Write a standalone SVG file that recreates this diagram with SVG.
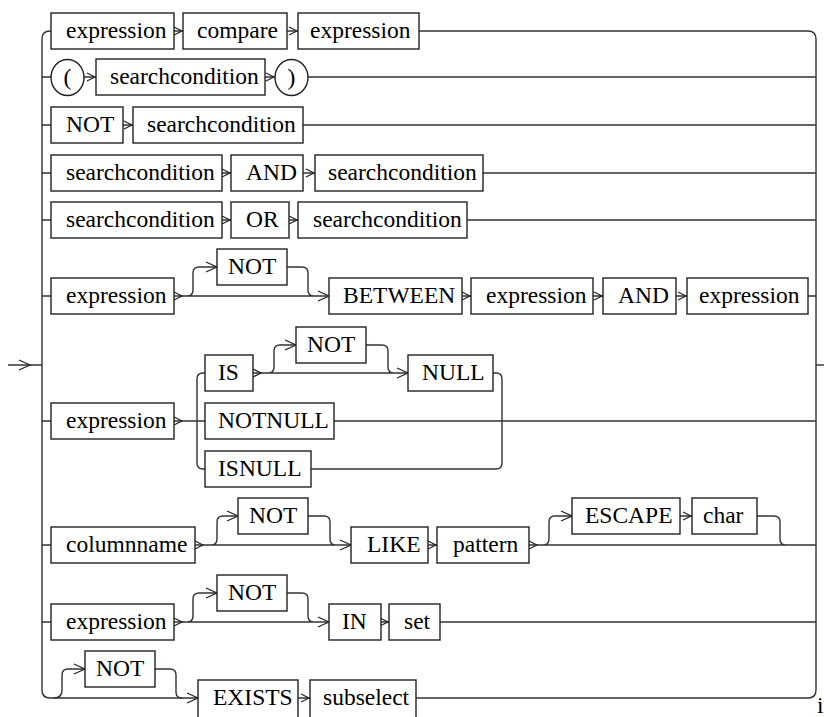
<svg xmlns="http://www.w3.org/2000/svg" width="824" height="717" viewBox="0 0 824 717" font-family="Liberation Serif, serif" font-size="23.5">
<style>
.box{fill:#fff;stroke:#222;stroke-width:1.4}
.ln{fill:none;stroke:#333;stroke-width:1.4}
.ch{fill:none;stroke:#222;stroke-width:1.2}
.m{text-anchor:middle}
</style>
<defs>
<path id="sa" class="ch" d="M-8,-4 L0,0 L-8,4"/>
<path id="la" class="ch" d="M-11,-5 L0,0 L-11,5"/>
</defs>
<rect width="824" height="717" fill="#fff"/>
<g id="connectors">
<path class="ln" d="M8,365 H42"/>
<path class="ch" d="M19,360 L30,365 L19,370"/>
<path class="ln" d="M51,31 H50 Q42,31 42,39 V690 Q42,698 50,698 H198"/>
<path class="ln" d="M419,31 H808 Q816,31 816,39 V690 Q816,698 808,698 H416"/>
<path class="ln" d="M816,365 H824"/>
<path class="ln" d="M174,31 H183 M287,31 H298"/>
<use href="#sa" x="182" y="31"/><use href="#sa" x="297" y="31"/>
<path class="ln" d="M42,77 H51 M84,77 H96 M265,77 H275 M308,77 H816"/>
<use href="#sa" x="95" y="77"/><use href="#sa" x="274" y="77"/>
<path class="ln" d="M42,125 H51 M123,125 H133 M303,125 H816"/>
<use href="#sa" x="132" y="125"/>
<path class="ln" d="M42,173 H51 M222,173 H231 M303,173 H315 M483,173 H816"/>
<use href="#sa" x="230" y="173"/><use href="#sa" x="314" y="173"/>
<path class="ln" d="M42,220 H51 M222,220 H231 M289,220 H298 M467,220 H816"/>
<use href="#sa" x="230" y="220"/><use href="#sa" x="297" y="220"/>
<path class="ln" d="M42,296 H51 M174,296 H329 M182,296 H187 Q193,296 193,290 V273 Q193,267 199,267 H217 M287,267 H302 Q308,267 308,273 V290 Q308,296 314,296 M462,296 H471 M593,296 H603 M676,296 H687 M808,296 H816"/>
<use href="#sa" x="182" y="296"/><use href="#la" x="217" y="267"/><use href="#la" x="329" y="296"/>
<use href="#sa" x="470" y="296"/><use href="#sa" x="602" y="296"/><use href="#sa" x="686" y="296"/>
<path class="ln" d="M42,421 H51 M174,421 H205 M205,373 H203 Q197,373 197,379 V463 Q197,469 203,469 H205 M253,373 H408 M261,373 H268 Q274,373 274,367 V351 Q274,345 280,345 H296 M366,345 H382 Q388,345 388,351 V367 Q388,373 394,373 M493,373 H496 Q502,373 502,379 V463 Q502,469 496,469 H311 M334,421 H816"/>
<use href="#sa" x="182" y="421"/><use href="#sa" x="261" y="373"/><use href="#la" x="296" y="345"/><use href="#la" x="408" y="373"/>
<path class="ln" d="M42,545 H51 M195,545 H351 M203,545 H211 Q217,545 217,539 V522 Q217,516 223,516 H238 M308,516 H324 Q330,516 330,522 V539 Q330,545 336,545 M428,545 H437 M529,545 H816 M537,545 H543 Q549,545 549,539 V522 Q549,516 555,516 H572 M680,516 H692 M757,516 H774 Q780,516 780,522 V539 Q780,545 786,545"/>
<use href="#sa" x="203" y="545"/><use href="#la" x="238" y="516"/><use href="#la" x="351" y="545"/>
<use href="#sa" x="436" y="545"/><use href="#sa" x="537" y="545"/><use href="#la" x="572" y="516"/><use href="#sa" x="691" y="516"/>
<path class="ln" d="M42,622 H51 M174,622 H329 M182,622 H187 Q193,622 193,616 V599 Q193,593 199,593 H217 M287,593 H302 Q308,593 308,599 V616 Q308,622 314,622 M381,622 H389 M440,622 H816"/>
<use href="#sa" x="182" y="622"/><use href="#la" x="217" y="593"/><use href="#la" x="329" y="622"/><use href="#sa" x="388" y="622"/>
<path class="ln" d="M54,698 Q62,698 62,690 V675 Q62,669 68,669 H85 M155,669 H170 Q176,669 176,675 V692 Q176,698 182,698 M298,698 H310"/>
<use href="#la" x="85" y="669"/><use href="#la" x="198" y="698"/><use href="#sa" x="309" y="698"/>
</g>
<g id="r1-expression1"><rect class="box" x="51" y="13" width="123" height="36"/><text x="66" y="38">expression</text></g>
<g id="r1-compare"><rect class="box" x="183" y="13" width="104" height="36"/><text x="197" y="38">compare</text></g>
<g id="r1-expression2"><rect class="box" x="298" y="13" width="121" height="36"/><text x="310" y="38">expression</text></g>
<g id="r2-lparen"><ellipse class="box" cx="67.5" cy="77.5" rx="16.5" ry="18"/><text class="m" x="67.5" y="85">(</text></g>
<g id="r2-searchcondition"><rect class="box" x="96" y="59" width="169" height="36"/><text x="110" y="84">searchcondition</text></g>
<g id="r2-rparen"><ellipse class="box" cx="291.5" cy="77.5" rx="16.5" ry="18"/><text class="m" x="291.5" y="85">)</text></g>
<g id="r3-not"><rect class="box" x="51" y="107" width="72" height="36"/><text x="66" y="132">NOT</text></g>
<g id="r3-searchcondition"><rect class="box" x="133" y="107" width="170" height="36"/><text x="147" y="132">searchcondition</text></g>
<g id="r4-searchcondition1"><rect class="box" x="51" y="155" width="171" height="36"/><text x="66" y="180">searchcondition</text></g>
<g id="r4-and"><rect class="box" x="231" y="155" width="72" height="36"/><text x="246" y="180">AND</text></g>
<g id="r4-searchcondition2"><rect class="box" x="315" y="155" width="168" height="36"/><text x="328" y="180">searchcondition</text></g>
<g id="r5-searchcondition1"><rect class="box" x="51" y="202" width="171" height="36"/><text x="66" y="227">searchcondition</text></g>
<g id="r5-or"><rect class="box" x="231" y="202" width="58" height="36"/><text x="246" y="227">OR</text></g>
<g id="r5-searchcondition2"><rect class="box" x="298" y="202" width="169" height="36"/><text x="313" y="227">searchcondition</text></g>
<g id="r6-expression1"><rect class="box" x="51" y="278" width="123" height="36"/><text x="66" y="303">expression</text></g>
<g id="r6-not"><rect class="box" x="217" y="249" width="70" height="36"/><text x="228" y="274">NOT</text></g>
<g id="r6-between"><rect class="box" x="329" y="278" width="133" height="36"/><text x="343" y="303">BETWEEN</text></g>
<g id="r6-expression2"><rect class="box" x="471" y="278" width="122" height="36"/><text x="486" y="303">expression</text></g>
<g id="r6-and"><rect class="box" x="603" y="278" width="73" height="36"/><text x="618" y="303">AND</text></g>
<g id="r6-expression3"><rect class="box" x="687" y="278" width="121" height="36"/><text x="699" y="303">expression</text></g>
<g id="r7-expression"><rect class="box" x="51" y="403" width="123" height="36"/><text x="66" y="428">expression</text></g>
<g id="r7-is"><rect class="box" x="205" y="355" width="48" height="36"/><text x="218" y="380">IS</text></g>
<g id="r7-not"><rect class="box" x="296" y="327" width="70" height="36"/><text x="307" y="352">NOT</text></g>
<g id="r7-null"><rect class="box" x="408" y="355" width="85" height="36"/><text x="422" y="380">NULL</text></g>
<g id="r7-notnull"><rect class="box" x="205" y="403" width="129" height="36"/><text x="218" y="428">NOTNULL</text></g>
<g id="r7-isnull"><rect class="box" x="205" y="451" width="106" height="36"/><text x="218" y="476">ISNULL</text></g>
<g id="r8-columnname"><rect class="box" x="51" y="527" width="144" height="36"/><text x="66" y="552">columnname</text></g>
<g id="r8-not"><rect class="box" x="238" y="498" width="70" height="36"/><text x="249" y="523">NOT</text></g>
<g id="r8-like"><rect class="box" x="351" y="527" width="77" height="36"/><text x="367" y="552">LIKE</text></g>
<g id="r8-pattern"><rect class="box" x="437" y="527" width="92" height="36"/><text x="453" y="552">pattern</text></g>
<g id="r8-escape"><rect class="box" x="572" y="498" width="108" height="36"/><text x="585" y="523">ESCAPE</text></g>
<g id="r8-char"><rect class="box" x="692" y="498" width="65" height="36"/><text x="703" y="523">char</text></g>
<g id="r9-expression"><rect class="box" x="51" y="604" width="123" height="36"/><text x="66" y="629">expression</text></g>
<g id="r9-not"><rect class="box" x="217" y="575" width="70" height="36"/><text x="228" y="600">NOT</text></g>
<g id="r9-in"><rect class="box" x="329" y="604" width="52" height="36"/><text x="342" y="629">IN</text></g>
<g id="r9-set"><rect class="box" x="389" y="604" width="51" height="36"/><text x="404" y="629">set</text></g>
<g id="r10-not"><rect class="box" x="85" y="651" width="70" height="36"/><text x="96" y="676">NOT</text></g>
<g id="r10-exists"><rect class="box" x="198" y="680" width="100" height="40"/><text x="213" y="705">EXISTS</text></g>
<g id="r10-subselect"><rect class="box" x="310" y="680" width="106" height="40"/><text x="323" y="705">subselect</text></g>
<text x="817" y="713">i</text>
</svg>
